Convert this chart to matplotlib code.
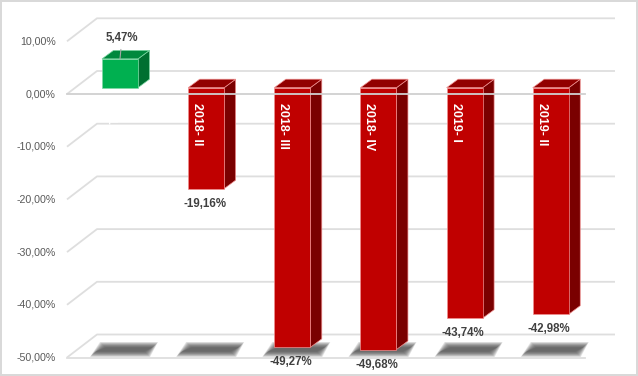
import numpy as np
import matplotlib.pyplot as plt
from matplotlib.patches import Polygon

plt.rcParams['font.family'] = ['Liberation Sans', 'DejaVu Sans']

categories = ["2018- I", "2018- II", "2018- III", "2018- IV", "2019- I", "2019- II"]
values = [5.47, -19.16, -49.27, -49.68, -43.74, -42.98]
value_labels = ["5,47%", "-19,16%", "-49,27%", "-49,68%", "-43,74%", "-42,98%"]
tick_values = [10, 0, -10, -20, -30, -40, -50]
tick_labels = ["10,00%", "0,00%", "-10,00%", "-20,00%", "-30,00%", "-40,00%", "-50,00%"]

# chart scale in pixels: one category step and one percent
W, H = 638, 376
CAT_PX = 86.15
PCT_PX = 5.27
X0_PX, Y0_PX = 120, 87.7   # position of category 0 / value 0 in the bar plane


def dx(px):
    return px / CAT_PX


def dy(px):
    return px / PCT_PX


fig = plt.figure(figsize=(W / 100, H / 100), dpi=100)
fig.patch.set_edgecolor('#d9d9d9')
fig.patch.set_linewidth(1.5)
ax = fig.add_axes([0, 0, 1, 1])
ax.set_xlim(-dx(X0_PX), dx(W - X0_PX))
ax.set_ylim(-dy(H - Y0_PX), dy(Y0_PX))
ax.axis('off')

# walls: side wall diagonals + back wall gridlines
front_x0, front_x1 = dx(67 - X0_PX), dx(585 - X0_PX)
back_x0, back_x1 = dx(97 - X0_PX), dx(615 - X0_PX)
front_sh, back_sh = -dy(94 - Y0_PX), dy(Y0_PX - 71)
grid_c = '#dedede'
for v, lab in zip(tick_values, tick_labels):
    ax.plot([front_x0, back_x0, back_x1], [v + front_sh, v + back_sh, v + back_sh],
            color=grid_c, lw=1.3, zorder=1, solid_capstyle='butt')
    ax.text(dx(56 - X0_PX), v + front_sh, lab, ha='right', va='center',
            fontsize=7.7, color='#595959')

# floor front edge and category axis line (drawn over the bars)
ax.plot([front_x0, front_x1], [min(tick_values) + front_sh] * 2, color=grid_c, lw=1.3, zorder=1)
ax.plot([front_x0, front_x1], [0 + front_sh] * 2, color='#d0d0d0', lw=1.3, zorder=6)

# blurred shadows on the floor
for i in range(len(categories)):
    yf, yb = -dy(353 - Y0_PX), -dy(346 - Y0_PX)
    for e in np.linspace(4, -1.5, 10):
        pts = [(i + dx(-26 - e), yf - dy(e)), (i + dx(26 + e), yf - dy(e)),
               (i + dx(34 + e), yb + dy(e)), (i + dx(-16 - e), yb + dy(e))]
        ax.add_patch(Polygon(pts, closed=True, facecolor='#444444', edgecolor='none',
                             alpha=0.14, zorder=2))

# 3d-looking bars
half = dx(18)
ddx, ddy = dx(11.5), dy(8.5)
for i, v in enumerate(values):
    if v >= 0:
        cols = ('#00b050', '#00883d', '#006f31', '#7fd8a5')
    else:
        cols = ('#c00000', '#920000', '#7a0000', '#f09090')
    top, bot = max(v, 0), min(v, 0)
    front = [(i - half, bot), (i + half, bot), (i + half, top), (i - half, top)]
    topf = [(i - half, top), (i + half, top), (i + half + ddx, top + ddy), (i - half + ddx, top + ddy)]
    side = [(i + half, bot), (i + half + ddx, bot + ddy), (i + half + ddx, top + ddy), (i + half, top)]
    ax.add_patch(Polygon(side, closed=True, facecolor=cols[2], edgecolor=cols[3], lw=0.5, zorder=3))
    ax.add_patch(Polygon(topf, closed=True, facecolor=cols[1], edgecolor=cols[3], lw=0.5, zorder=3))
    ax.add_patch(Polygon(front, closed=True, facecolor=cols[0], edgecolor=cols[3], lw=0.5, zorder=4))

# category labels (white, rotated, just below the zero line)
for i, cat in enumerate(categories):
    ax.annotate(cat, xy=(i, 0), xytext=(-9, -15), textcoords='offset pixels',
                rotation=270, ha='center', va='top', color='white',
                fontsize=9, fontweight='bold', zorder=7)

# data labels
for i, (v, lab) in enumerate(zip(values, value_labels)):
    if v >= 0:
        ax.annotate(lab, xy=(i, v), xytext=(2, 21), textcoords='offset pixels',
                    ha='center', va='center', fontsize=8.3, fontweight='bold', color='#404040',
                    arrowprops=dict(arrowstyle='-', color='#a6a6a6', lw=0.8, shrinkA=2, shrinkB=0),
                    zorder=7)
    else:
        ax.annotate(lab, xy=(i, v), xytext=(-1.5, -15), textcoords='offset pixels',
                    ha='center', va='center', fontsize=8.3, fontweight='bold', color='#404040',
                    zorder=7)

fig.savefig('out.png', dpi=100)
